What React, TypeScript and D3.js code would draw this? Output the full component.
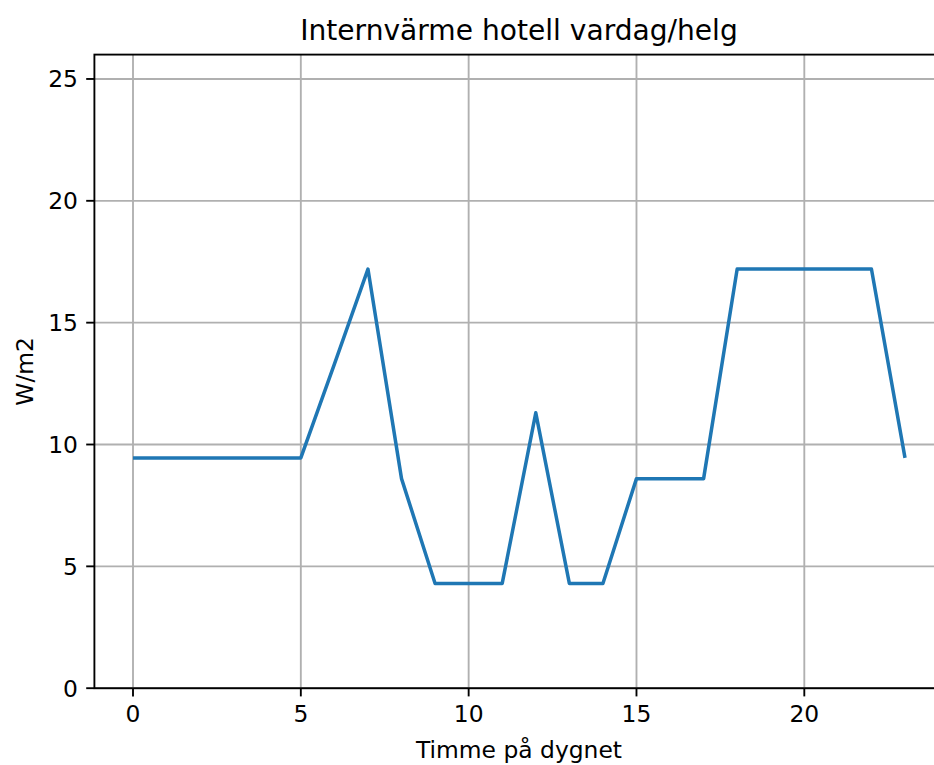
import React from "react";
import * as d3 from "d3";

const hours = [0, 1, 2, 3, 4, 5, 6, 7, 8, 9, 10, 11, 12, 13, 14, 15, 16, 17, 18, 19, 20, 21, 22, 23];
const heat = [9.45, 9.45, 9.45, 9.45, 9.45, 9.45, 13.3, 17.2, 8.6, 4.3, 4.3, 4.3, 11.3, 4.3, 4.3, 8.6, 8.6, 8.6, 17.2, 17.2, 17.2, 17.2, 17.2, 9.45];
const xTicks = [0, 5, 10, 15, 20];
const yTicks = [0, 5, 10, 15, 20, 25];
const title = "Internvärme hotell vardag/helg";
const xLabel = "Timme på dygnet";
const yLabel = "W/m2";

const W = 934;
const H = 765;
const left = 94.4;
const right = 943.6;
const top = 54.6;
const bottom = 688.2;
const FONT = "DejaVu Sans, sans-serif";
const fs = 23.4;
const tickLen = 8.2;
const tickPad = 8.2;
const thin = 1.87;

export default function App() {
  const x = d3.scaleLinear().domain([-1.15, 24.15]).range([left, right]);
  const y = d3.scaleLinear().domain([0, 26]).range([bottom, top]);
  const line = d3
    .line<number>()
    .x((_, i) => x(hours[i]))
    .y((d) => y(d));
  const cx = (left + right) / 2;
  const cy = (top + bottom) / 2;
  return (
    <svg
      width={W}
      height={H}
      style={{ position: "absolute", left: 0, top: 0, background: "#fff" }}
      fontFamily={FONT}
    >
      <rect x={0} y={0} width={W} height={H} fill="#fff" />
      {/* grid */}
      {xTicks.map((t) => (
        <line key={"gx" + t} x1={x(t)} x2={x(t)} y1={top} y2={bottom} stroke="#b0b0b0" strokeWidth={thin} />
      ))}
      {yTicks.map((t) => (
        <line key={"gy" + t} x1={left} x2={right} y1={y(t)} y2={y(t)} stroke="#b0b0b0" strokeWidth={thin} />
      ))}
      {/* data line */}
      <path
        d={line(heat) || ""}
        fill="none"
        stroke="#1f77b4"
        strokeWidth={3.5}
        strokeLinejoin="round"
        strokeLinecap="butt"
      />
      {/* spines */}
      <rect
        x={left}
        y={top}
        width={right - left}
        height={bottom - top}
        fill="none"
        stroke="#000"
        strokeWidth={thin}
      />
      {/* x ticks */}
      {xTicks.map((t) => (
        <g key={"xt" + t}>
          <line x1={x(t)} x2={x(t)} y1={bottom} y2={bottom + tickLen} stroke="#000" strokeWidth={thin} />
          <text x={x(t)} y={bottom + tickLen + tickPad + fs * 0.76} fontSize={fs} textAnchor="middle" fill="#000">
            {t}
          </text>
        </g>
      ))}
      {/* y ticks */}
      {yTicks.map((t) => (
        <g key={"yt" + t}>
          <line x1={left - tickLen} x2={left} y1={y(t)} y2={y(t)} stroke="#000" strokeWidth={thin} />
          <text x={left - tickLen - tickPad} y={y(t) + fs * 0.364} fontSize={fs} textAnchor="end" fill="#000">
            {t}
          </text>
        </g>
      ))}
      {/* labels */}
      <text x={cx} y={758} fontSize={fs} textAnchor="middle" fill="#000">
        {xLabel}
      </text>
      <text
        transform={`translate(32.5, ${cy}) rotate(-90)`}
        fontSize={fs}
        textAnchor="middle"
        fill="#000"
      >
        {yLabel}
      </text>
      <text x={cx} y={39.5} fontSize={28.1} textAnchor="middle" fill="#000">
        {title}
      </text>
    </svg>
  );
}
